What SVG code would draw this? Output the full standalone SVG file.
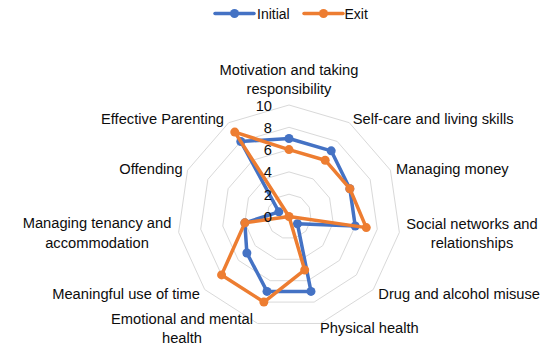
<svg xmlns="http://www.w3.org/2000/svg" xmlns:xlink="http://www.w3.org/1999/xlink" width="549" height="347" viewBox="0 0 549 347">
<style>
.bg{fill:#fff}
.grid{fill:none;stroke:#d9d9d9;stroke-width:1}
.lbl{font-family:"Liberation Sans",Arial,sans-serif;font-size:14.7px;fill:#0d0d0d}
.num{font-family:"Liberation Sans",Arial,sans-serif;font-size:14.7px;fill:#0d0d0d;text-anchor:end}
.leg{font-family:"Liberation Sans",Arial,sans-serif;font-size:14px;fill:#0d0d0d}
.s1{fill:none;stroke:#4472c4;stroke-width:3.5;stroke-linejoin:round;stroke-linecap:round}
.s2{fill:none;stroke:#ed7d31;stroke-width:3.5;stroke-linejoin:round;stroke-linecap:round}
.m1{fill:#4472c4}
.m2{fill:#ed7d31}
.mid{text-anchor:middle}
.end{text-anchor:end}
</style>
<defs>
<polygon id="ring" vector-effect="non-scaling-stroke" points="0,-1 .54064,-.84125 .90963,-.41542 .98982,.14231 .75575,.65486 .28173,.95949 -.28173,.95949 -.75575,.65486 -.98982,.14231 -.90963,-.41542 -.54064,-.84125"/>
</defs>
<rect class="bg" x="0" y="0" width="549" height="347"/>
<g id="legend">
<line class="s1" x1="215" y1="13.5" x2="254" y2="13.5"/>
<circle class="m1" cx="234.5" cy="13.5" r="4.5"/>
<text class="leg" x="257" y="18.5">Initial</text>
<line class="s2" x1="304" y1="13.5" x2="343" y2="13.5"/>
<circle class="m2" cx="323.5" cy="13.5" r="4.5"/>
<text class="leg" x="344.5" y="18.5">Exit</text>
</g>
<g id="grid" transform="translate(289,216.5)">
<use xlink:href="#ring" class="grid" transform="scale(22.3)"/>
<use xlink:href="#ring" class="grid" transform="scale(44.6)"/>
<use xlink:href="#ring" class="grid" transform="scale(66.9)"/>
<use xlink:href="#ring" class="grid" transform="scale(89.2)"/>
<use xlink:href="#ring" class="grid" transform="scale(111.5)"/>
</g>
<g id="series-initial" transform="translate(289,216.5)">
<polygon class="s1" points="0,-78.05 42.20,-65.66 60.85,-27.79 66.22,9.52 8.43,7.30 21.99,74.89 -21.99,74.89 -42.13,36.51 -44.15,6.35 -10.14,-4.63 -48.23,-75.04"/>
<circle class="m1" cx="0" cy="-78.05" r="4.5"/>
<circle class="m1" cx="42.20" cy="-65.66" r="4.5"/>
<circle class="m1" cx="60.85" cy="-27.79" r="4.5"/>
<circle class="m1" cx="66.22" cy="9.52" r="4.5"/>
<circle class="m1" cx="8.43" cy="7.30" r="4.5"/>
<circle class="m1" cx="21.99" cy="74.89" r="4.5"/>
<circle class="m1" cx="-21.99" cy="74.89" r="4.5"/>
<circle class="m1" cx="-42.13" cy="36.51" r="4.5"/>
<circle class="m1" cx="-44.15" cy="6.35" r="4.5"/>
<circle class="m1" cx="-10.14" cy="-4.63" r="4.5"/>
<circle class="m1" cx="-48.23" cy="-75.04" r="4.5"/>
</g>
<g id="series-exit" transform="translate(289,216.5)">
<polygon class="s2" points="0,-66.9 36.17,-56.28 60.85,-27.79 77.26,11.11 0,0 15.71,53.49 -25.13,85.59 -67.41,58.41 -44.15,6.35 0,0 -54.25,-84.42"/>
<circle class="m2" cx="0" cy="-66.9" r="4.5"/>
<circle class="m2" cx="36.17" cy="-56.28" r="4.5"/>
<circle class="m2" cx="60.85" cy="-27.79" r="4.5"/>
<circle class="m2" cx="77.26" cy="11.11" r="4.5"/>
<circle class="m2" cx="0" cy="0" r="4.5"/>
<circle class="m2" cx="15.71" cy="53.49" r="4.5"/>
<circle class="m2" cx="-25.13" cy="85.59" r="4.5"/>
<circle class="m2" cx="-67.41" cy="58.41" r="4.5"/>
<circle class="m2" cx="-44.15" cy="6.35" r="4.5"/>
<circle class="m2" cx="-54.25" cy="-84.42" r="4.5"/>
</g>
<g id="axis-values">
<text class="num" x="272" y="110.5">10</text>
<text class="num" x="272" y="132.8">8</text>
<text class="num" x="272" y="155.1">6</text>
<text class="num" x="272" y="177.4">4</text>
<text class="num" x="272" y="199.7">2</text>
<text class="num" x="272" y="222">0</text>
</g>
<g id="category-labels">
<text class="lbl mid" x="289" y="75">Motivation and taking</text>
<text class="lbl mid" x="289" y="94">responsibility</text>
<text class="lbl" x="352.7" y="124">Self-care and living skills</text>
<text class="lbl" x="396" y="174">Managing money</text>
<text class="lbl mid" x="472" y="229.3">Social networks and</text>
<text class="lbl mid" x="472" y="248.3">relationships</text>
<text class="lbl" x="378.3" y="298.5">Drug and alcohol misuse</text>
<text class="lbl" x="320" y="332.7">Physical health</text>
<text class="lbl mid" x="182" y="324">Emotional and mental</text>
<text class="lbl mid" x="182" y="343">health</text>
<text class="lbl end" x="200" y="299">Meaningful use of time</text>
<text class="lbl mid" x="97" y="228.3">Managing tenancy and</text>
<text class="lbl mid" x="97" y="247.7">accommodation</text>
<text class="lbl end" x="182.7" y="174">Offending</text>
<text class="lbl end" x="224" y="124">Effective Parenting</text>
</g>
</svg>
